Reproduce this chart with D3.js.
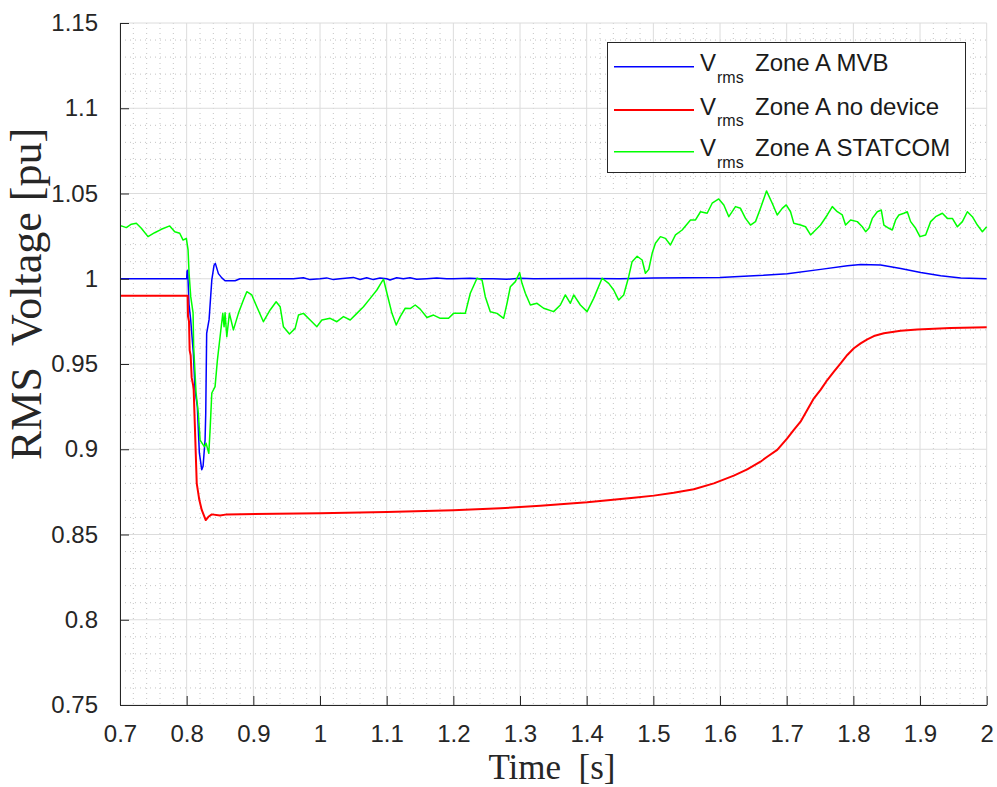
<!DOCTYPE html>
<html>
<head>
<meta charset="utf-8">
<script src="https://cdn.jsdelivr.net/npm/d3@7"></script>
<style>
  body { margin: 0; background: #ffffff; }
  svg { display: block; }
</style>
</head>
<body>
<svg id="chart" width="997" height="787"></svg>
<script>
// Axis ticks
const xTicks = [0.7, 0.8, 0.9, 1.0, 1.1, 1.2, 1.3, 1.4, 1.5, 1.6, 1.7, 1.8, 1.9, 2.0];
const yTicks = [0.75, 0.8, 0.85, 0.9, 0.95, 1.0, 1.05, 1.1, 1.15];

// Series labels
const seriesNames = ["Zone A MVB", "Zone A no device", "Zone A STATCOM"];

// RMS voltage, Zone A, with MVB (time [s], voltage [pu])
const tMVB = [0.7, 0.8, 0.8006, 0.8015, 0.8035, 0.806, 0.810, 0.8125, 0.816, 0.819, 0.8226, 0.8246, 0.8276, 0.8286,
  0.830, 0.8336, 0.8377, 0.8411, 0.843, 0.8476, 0.8527, 0.8576, 0.8726, 0.88, 0.90, 0.96, 0.975, 0.985, 1.0, 1.01,
  1.02, 1.03, 1.05, 1.06, 1.07, 1.08, 1.09, 1.1, 1.105, 1.115, 1.125, 1.135, 1.145, 1.16, 1.175, 1.19, 1.2, 1.225,
  1.24, 1.26, 1.28, 1.3, 1.32, 1.4, 1.45, 1.5, 1.6, 1.665, 1.701, 1.751, 1.791, 1.811, 1.841, 1.871, 1.901, 1.931,
  1.961, 2.0];
const vMVB = [1.0, 1.0, 1.0045, 1.005, 0.985, 0.976, 0.9565, 0.935, 0.925, 0.898, 0.888, 0.890, 0.9054, 0.921,
  0.968, 0.976, 0.9993, 1.008, 1.009, 1.003, 1.0005, 0.9988, 0.9988, 1.0, 1.0, 1.0, 1.0006, 0.9995, 1.0, 1.0005,
  0.9995, 1.0, 1.0008, 0.9996, 1.0006, 0.9995, 1.0004, 1.0, 0.9993, 1.0006, 1.0, 1.0006, 0.9997, 1.0, 1.0004, 1.0, 1.0, 1.0003,
  1.0, 1.0, 0.9997, 1.0003, 1.0, 1.0002, 1.0, 1.0005, 1.0008, 1.002, 1.003, 1.0055, 1.0076, 1.0084, 1.008, 1.006, 1.0037, 1.0018,
  1.0004, 1.0];

// RMS voltage, Zone A, no compensating device
const tNoDev = [0.7, 0.8, 0.8015, 0.802, 0.8035, 0.8045, 0.806, 0.8075, 0.8095, 0.8105, 0.8151, 0.819, 0.8226, 0.8286,
  0.8326, 0.8377, 0.8501, 0.8602, 1.0, 1.1, 1.2, 1.2706, 1.3305, 1.4007, 1.4706, 1.5008, 1.5306, 1.5607, 1.5907,
  1.6207, 1.6408, 1.6607, 1.6708, 1.6858, 1.7008, 1.7107, 1.7208, 1.7308, 1.7408, 1.7508, 1.7609, 1.7708, 1.7809,
  1.7909, 1.8008, 1.8109, 1.8209, 1.8308, 1.8458, 1.8709, 1.8959, 1.946, 2.0];
const vNoDev = [0.99, 0.99, 0.99, 0.978, 0.975, 0.958, 0.955, 0.942, 0.938, 0.935, 0.880, 0.8702, 0.8644, 0.8585,
  0.8604, 0.8618, 0.8612, 0.8618, 0.8625, 0.8632, 0.8642, 0.8654, 0.8669, 0.8689, 0.8716, 0.8728, 0.8745, 0.8765, 0.8800,
  0.8845, 0.8882, 0.8927, 0.8956, 0.8996, 0.9064, 0.9113, 0.9162, 0.9230, 0.9299, 0.9348, 0.9406, 0.9455, 0.9504,
  0.9553, 0.9592, 0.9621, 0.9645, 0.9664, 0.9680, 0.9695, 0.9703, 0.9711, 0.9715];

// RMS voltage, Zone A, with STATCOM
const tSTATCOM = [0.700, 0.702, 0.7095, 0.717, 0.7245, 0.732, 0.742, 0.752, 0.762, 0.7746, 0.7821, 0.7896, 0.7946,
  0.7995, 0.8021, 0.8036, 0.8061, 0.8096, 0.8105, 0.8141, 0.8175, 0.8201, 0.8265, 0.8291, 0.8332, 0.8351, 0.8377,
  0.8426, 0.8461, 0.8501, 0.8542, 0.8561, 0.8576, 0.8602, 0.8641, 0.8701, 0.8776, 0.8851, 0.8902, 0.8977, 0.9052,
  0.9151, 0.9252, 0.9342, 0.9402, 0.9451, 0.9542, 0.9627, 0.9677, 0.9752, 0.9852, 0.9953, 1.0028, 1.0152, 1.0253,
  1.0352, 1.0453, 1.0553, 1.0652, 1.0753, 1.0853, 1.0929, 1.0953, 1.1004, 1.1079, 1.1143, 1.1203, 1.1278, 1.1353,
  1.1428, 1.1503, 1.1604, 1.1703, 1.1804, 1.1928, 1.2003, 1.2179, 1.2254, 1.2355, 1.243, 1.2479, 1.2554, 1.2655,
  1.2754, 1.2805, 1.2855, 1.293, 1.2994, 1.303, 1.308, 1.3155, 1.3255, 1.3354, 1.3504, 1.3605, 1.368, 1.3755, 1.3805,
  1.3905, 1.4006, 1.4105, 1.4231, 1.433, 1.4405, 1.448, 1.4555, 1.463, 1.4681, 1.4757, 1.4832, 1.4881, 1.4931,
  1.4982, 1.5031, 1.5106, 1.5181, 1.5256, 1.5332, 1.5432, 1.5557, 1.5632, 1.5707, 1.5807, 1.5882, 1.5981, 1.6057,
  1.6132, 1.6232, 1.6307, 1.6382, 1.6457, 1.6532, 1.6607, 1.6697, 1.6783, 1.6858, 1.6933, 1.6993, 1.7058, 1.7107,
  1.7208, 1.7283, 1.7358, 1.7433, 1.7508, 1.7609, 1.7684, 1.7759, 1.7834, 1.7883, 1.7958, 1.8059, 1.8134, 1.8184,
  1.8233, 1.8284, 1.8359, 1.8419, 1.8458, 1.8533, 1.8584, 1.8634, 1.8683, 1.8758, 1.8809, 1.8859, 1.8934, 1.8999,
  1.9084, 1.9159, 1.9234, 1.9335, 1.941, 1.9485, 1.956, 1.9635, 1.971, 1.9785, 1.986, 1.9935, 2.0];
const vSTATCOM = [1.031, 1.031, 1.030, 1.032, 1.0325, 1.0296, 1.0247, 1.027, 1.029, 1.031, 1.0276, 1.0267, 1.0227,
  1.0237, 1.0169, 1.0032, 0.9895, 0.980, 0.960, 0.933, 0.921, 0.9054, 0.9015, 0.9035, 0.8976, 0.9113, 0.933,
  0.9367, 0.9523, 0.966, 0.9797, 0.9719, 0.980, 0.966, 0.9797, 0.970, 0.9797, 0.9875, 0.9924, 0.9905, 0.9836,
  0.9748, 0.9817, 0.9865, 0.9836, 0.9719, 0.9676, 0.9709, 0.9787, 0.9797, 0.9758, 0.9719, 0.9758, 0.9768, 0.9748,
  0.9778, 0.9758, 0.9797, 0.9836, 0.9885, 0.9934, 0.9983, 0.9997, 0.9915, 0.9797, 0.9729, 0.9778, 0.9827, 0.9825,
  0.9846, 0.9822, 0.9773, 0.9787, 0.9768, 0.9768, 0.9797, 0.9797, 0.9915, 1.0003, 0.9993, 0.9895, 0.9807, 0.9797,
  0.9768, 0.9856, 0.9953, 0.9983, 1.0036, 0.9973, 0.9915, 0.9846, 0.9856, 0.9827, 0.9807, 0.9846, 0.9905, 0.9856, 0.9905,
  0.9846, 0.9807, 0.9885, 1.0003, 0.9973, 0.9934, 0.9875, 0.9905, 1.0012, 1.010, 1.0132, 1.011, 1.0032, 1.0055,
  1.0149, 1.0208, 1.0247, 1.0237, 1.0198, 1.0257, 1.0286, 1.0345, 1.0345, 1.0393, 1.0384, 1.0443, 1.0468, 1.0433,
  1.0364, 1.0423, 1.0413, 1.0354, 1.0315, 1.0335, 1.0413, 1.0515, 1.0443, 1.0374, 1.0413, 1.0433, 1.0393, 1.0325,
  1.0315, 1.0305, 1.0257, 1.0286, 1.0315, 1.0374, 1.0423, 1.0393, 1.0374, 1.0315, 1.0345, 1.0335, 1.0305, 1.0276,
  1.0296, 1.0354, 1.0393, 1.0403, 1.0315, 1.0296, 1.0286, 1.0345, 1.0374, 1.0384, 1.0393, 1.0335, 1.0296, 1.0247,
  1.0257, 1.0335, 1.0364, 1.0384, 1.0354, 1.0354, 1.0305, 1.0335, 1.0393, 1.0364, 1.0315, 1.0276, 1.0305];

const svg = d3.select("#chart");
const W = 997, H = 787;
const plot = { left: 120, right: 986.7, top: 23, bottom: 705 };
const axisColor = "#262626";
const tickFont = "'Liberation Sans', Arial, Helvetica, sans-serif";
const labelFont = "'Liberation Serif', 'Times New Roman', serif";

const x = d3.scaleLinear().domain([0.7, 2.0]).range([plot.left, plot.right]);
const y = d3.scaleLinear().domain([0.75, 1.15]).range([plot.bottom, plot.top]);

svg.append("rect").attr("width", W).attr("height", H).attr("fill", "#ffffff");

// Minor grid (dotted)
const xMinor = d3.range(0, 66).map(i => +(0.7 + i * 0.02).toFixed(3))
  .filter(v => Math.abs(v * 10 - Math.round(v * 10)) > 1e-6);
const yMinor = d3.range(0, 41).map(i => +(0.75 + i * 0.01).toFixed(3))
  .filter(v => Math.abs(v * 20 - Math.round(v * 20)) > 1e-6);

const grid = svg.append("g").attr("class", "grid");
grid.selectAll("line.xminor").data(xMinor).join("line")
  .attr("class", "xminor")
  .attr("x1", d => x(d)).attr("x2", d => x(d))
  .attr("y1", plot.top).attr("y2", plot.bottom)
  .attr("stroke", "#c4c4c4").attr("stroke-width", 1).attr("stroke-dasharray", "1 4");
grid.selectAll("line.yminor").data(yMinor).join("line")
  .attr("class", "yminor")
  .attr("x1", plot.left).attr("x2", plot.right)
  .attr("y1", d => y(d)).attr("y2", d => y(d))
  .attr("stroke", "#c4c4c4").attr("stroke-width", 1).attr("stroke-dasharray", "1 4");

// Major grid (solid, light)
grid.selectAll("line.xmajor").data(xTicks).join("line")
  .attr("class", "xmajor")
  .attr("x1", d => x(d)).attr("x2", d => x(d))
  .attr("y1", plot.top).attr("y2", plot.bottom)
  .attr("stroke", "#dcdcdc").attr("stroke-width", 1);
grid.selectAll("line.ymajor").data(yTicks).join("line")
  .attr("class", "ymajor")
  .attr("x1", plot.left).attr("x2", plot.right)
  .attr("y1", d => y(d)).attr("y2", d => y(d))
  .attr("stroke", "#dcdcdc").attr("stroke-width", 1);

// Data lines
const series = [
  { name: seriesNames[0], t: tMVB, v: vMVB, color: "#0000ff", width: 1.5 },
  { name: seriesNames[1], t: tNoDev, v: vNoDev, color: "#ff0000", width: 2 },
  { name: seriesNames[2], t: tSTATCOM, v: vSTATCOM, color: "#00ff00", width: 1.5 }
];
const line = d3.line().x(d => x(d[0])).y(d => y(d[1]));
const lines = svg.append("g").attr("class", "lines");
series.forEach(s => {
  lines.append("path")
    .datum(s.t.map((t, i) => [t, s.v[i]]))
    .attr("fill", "none")
    .attr("stroke", s.color)
    .attr("stroke-width", s.width)
    .attr("stroke-linejoin", "round")
    .attr("d", line);
});

// Axes (ticks point inward)
const fmt = d => d3.format("~g")(d);
const xAxis = d3.axisBottom(x).tickValues(xTicks).tickFormat(fmt).tickSizeInner(-9).tickSizeOuter(0).tickPadding(20);
const yAxis = d3.axisLeft(y).tickValues(yTicks).tickFormat(fmt).tickSizeInner(-9).tickSizeOuter(0).tickPadding(22);

const gx = svg.append("g").attr("transform", `translate(0,${plot.bottom})`).call(xAxis);
const gy = svg.append("g").attr("transform", `translate(${plot.left},0)`).call(yAxis);
[gx, gy].forEach(g => {
  g.select(".domain").attr("stroke", axisColor).attr("stroke-width", 1);
  g.selectAll(".tick line").attr("stroke", axisColor).attr("stroke-width", 1);
  g.selectAll(".tick text").attr("fill", axisColor)
    .style("font-family", tickFont).style("font-size", "24px");
});
gx.selectAll(".tick text").attr("dy", "0.71em");

// Axis titles
svg.append("text")
  .attr("x", 552).attr("y", 779)
  .attr("text-anchor", "middle")
  .style("font-family", labelFont).style("font-size", "35px").attr("fill", axisColor)
  .attr("xml:space", "preserve")
  .text("Time  [s]");
svg.append("text")
  .attr("transform", "translate(41,294) rotate(-90)")
  .attr("text-anchor", "middle")
  .style("font-family", labelFont).style("font-size", "44px").attr("fill", axisColor)
  .attr("xml:space", "preserve")
  .text("RMS  Voltage [pu]");

// Legend
const legend = svg.append("g").attr("class", "legend");
legend.append("rect")
  .attr("x", 607.5).attr("y", 42.5).attr("width", 358).attr("height", 130)
  .attr("fill", "#ffffff").attr("stroke", axisColor).attr("stroke-width", 1);
const rowY = [66.7, 110, 151.7];
series.forEach((s, i) => {
  const yy = rowY[i];
  legend.append("line")
    .attr("x1", 614).attr("x2", 694).attr("y1", yy).attr("y2", yy)
    .attr("stroke", s.color).attr("stroke-width", s.width);
  legend.append("text")
    .attr("x", 700).attr("y", yy + 4.5)
    .style("font-family", tickFont).style("font-size", "24px").attr("fill", "#1a1a1a")
    .text("V");
  legend.append("text")
    .attr("x", 717).attr("y", yy + 16)
    .style("font-family", tickFont).style("font-size", "16px").attr("fill", "#1a1a1a")
    .text("rms");
  legend.append("text")
    .attr("x", 755).attr("y", yy + 4.5)
    .style("font-family", tickFont).style("font-size", "24px").attr("fill", "#1a1a1a")
    .text(s.name);
});
</script>
</body>
</html>
